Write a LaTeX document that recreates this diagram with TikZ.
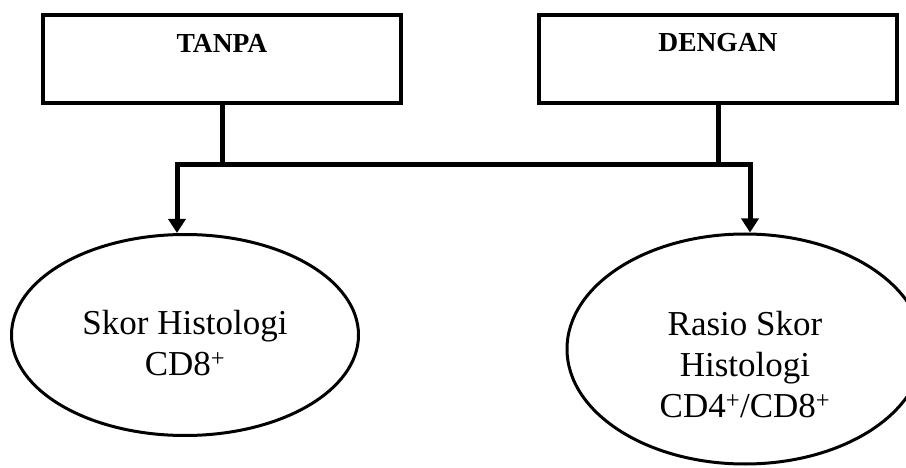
\documentclass[tikz,border=0pt]{standalone}
\usepackage{fontspec}
\setmainfont{Liberation Serif}
\usetikzlibrary{arrows.meta,shapes.geometric}

\begin{document}
\begin{tikzpicture}[x=1pt,y=-1pt,
		kotak/.style={draw,line width=4pt,minimum width=358pt,minimum height=88pt,inner sep=0pt},
		judul/.style={font=\fontsize{27.5}{30}\selectfont\bfseries,yshift=16pt},
		elips/.style={draw,ellipse,line width=3pt,inner sep=0pt},
		isi/.style={align=center,font=\fontsize{35}{41}\selectfont},
		garis/.style={line width=5pt},
		panah/.style={line width=5pt,-{Triangle[length=14pt,width=17pt]}}]
		
		\clip (0,0) rectangle (906,468);
		
		% kotak perlakuan
		\node[kotak,label={[judul]center:TANPA}] (tanpa) at (222,59) {};
		\node[kotak,label={[judul]center:DENGAN}] (dengan) at (718,59) {};
		
		% elips hasil
		\node[elips,minimum width=347pt,minimum height=201pt,
		label={[isi,yshift=-8pt]center:{Skor Histologi\\CD8\textsuperscript{+}}}] (skor) at (185,335) {};
		\node[elips,minimum width=356pt,minimum height=230pt,
		label={[isi,yshift=-16pt]center:{Rasio Skor\\Histologi\\CD4\textsuperscript{+}/CD8\textsuperscript{+}}}] (rasio) at (745,349) {};
		
		\coordinate (busL) at (177,165);
		\coordinate (busR) at (750,165);
		
		\draw[garis] (tanpa.south) -- (tanpa.south |- busL);
		\draw[garis] (dengan.south) -- (dengan.south |- busR);
		\draw[garis,line cap=rect] (busL) -- (busR);
		\draw[panah] (busL) -- (busL |- skor.north);
		\draw[panah] (busR) -- (busR |- rasio.north);
		
	\end{tikzpicture}
\end{document}
